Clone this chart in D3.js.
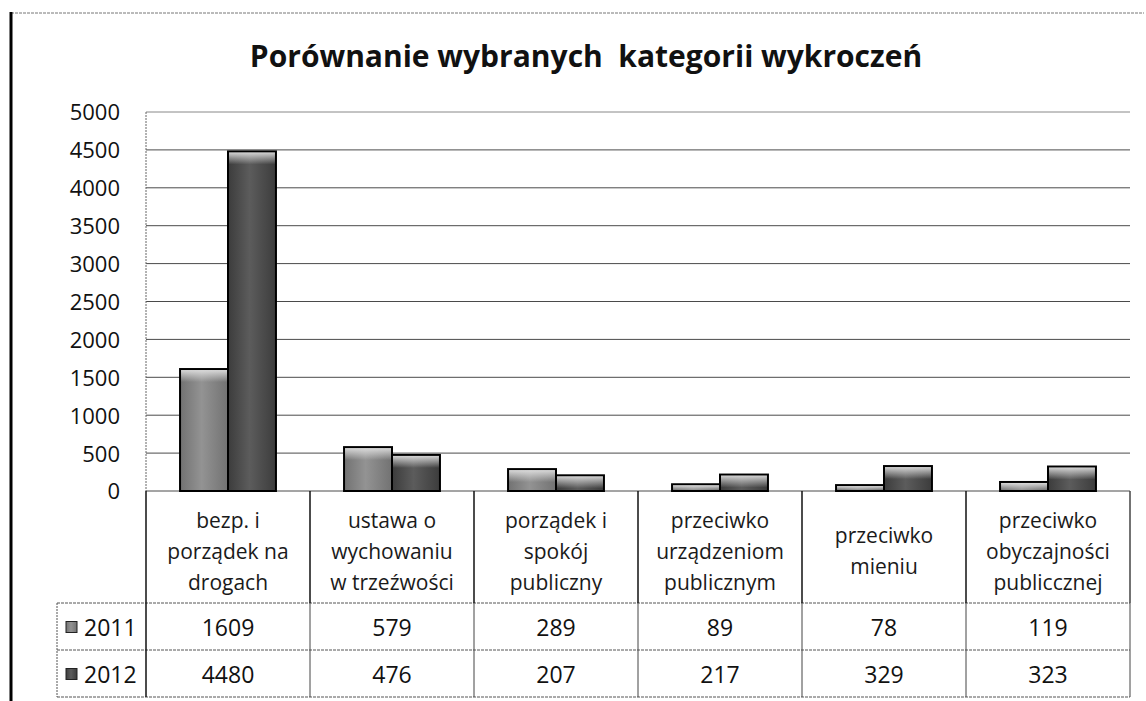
<!DOCTYPE html>
<meta charset="utf-8">
<title>wykroczenia</title>
<head>
<style>
body { margin: 0; background: #fff; }
svg { display: block; }
text { font-family: "Open Sans", "DejaVu Sans", sans-serif; fill: #111; }
.title { font-weight: bold; font-size: 30px; white-space: pre; }
.tick text { font-size: 22px; fill: #111; }
.cat text { font-size: 21px; fill: #1a1a1a; }
.val { font-size: 23px; }
.grid line { stroke: #4a4a4a; stroke-width: 1; }
.bar rect { stroke: #000; stroke-width: 2; }
</style>
</head>
<body>
<div id="chart"></div>
<script src="https://cdn.jsdelivr.net/npm/d3@7"></script>
<script>
var categories = [
  ["bezp. i", "porządek na", "drogach"],
  ["ustawa o", "wychowaniu", "w trzeźwości"],
  ["porządek i", "spokój", "publiczny"],
  ["przeciwko", "urządzeniom", "publicznym"],
  ["przeciwko", "mieniu"],
  ["przeciwko", "obyczajności", "publiccznej"]
];
var years = ["2011", "2012"];
var values2011 = [1609, 579, 289, 89, 78, 119];
var values2012 = [4480, 476, 207, 217, 329, 323];
var yTicks = [0, 500, 1000, 1500, 2000, 2500, 3000, 3500, 4000, 4500, 5000];

var W = 1146, H = 701;
var plot = {left: 146, right: 1130, top: 112, bottom: 491};
var rowCat = 112, rowVal = 47, legendLeft = 57;

var svg = d3.select("#chart").append("svg")
    .attr("width", W)
    .attr("height", H);

var defs = svg.append("defs");
var shades = {"2011": ["#939393", "#727272"], "2012": ["#5c5c5c", "#3c3c3c"]};
years.forEach(function(y) {
  var g = defs.append("linearGradient")
      .attr("id", "g" + y)
      .attr("x1", 0).attr("x2", 1).attr("y1", 0).attr("y2", 0);
  g.append("stop").attr("offset", "0%").attr("stop-color", shades[y][1]);
  g.append("stop").attr("offset", "45%").attr("stop-color", shades[y][0]);
  g.append("stop").attr("offset", "100%").attr("stop-color", shades[y][1]);
});
var hl = defs.append("linearGradient")
    .attr("id", "hl")
    .attr("x1", 0).attr("x2", 0).attr("y1", 0).attr("y2", 1);
hl.append("stop").attr("offset", "0%").attr("stop-color", "#e2e2e2").attr("stop-opacity", 0.9);
hl.append("stop").attr("offset", "100%").attr("stop-color", "#e2e2e2").attr("stop-opacity", 0);

var keys = categories.map(function(c, i) { return "c" + i; });
var x = d3.scaleBand().domain(keys).range([plot.left, plot.right]);
var xs = d3.scaleBand().domain(years).range([0, x.bandwidth()]).paddingOuter(0.71);
var y = d3.scaleLinear().domain([0, 5000]).range([plot.bottom, plot.top]);

// chart frame (scanned border)
svg.append("line")
    .attr("x1", 11).attr("x2", 1144).attr("y1", 13).attr("y2", 13)
    .style("stroke", "#777").style("stroke-dasharray", "3,1");
svg.append("line")
    .attr("x1", 11).attr("x2", 11).attr("y1", 12).attr("y2", H)
    .style("stroke", "#000").style("stroke-width", 3);

svg.append("text")
    .attr("class", "title")
    .attr("x", 586).attr("y", 67)
    .attr("text-anchor", "middle")
    .text("Porównanie wybranych\u00a0 kategorii wykroczeń");

// gridlines
svg.append("g").attr("class", "grid").selectAll("line")
    .data(yTicks)
  .enter().append("line")
    .attr("x1", plot.left).attr("x2", plot.right)
    .attr("y1", function(d) { return y(d); })
    .attr("y2", function(d) { return y(d); })
    .style("stroke", function(d) { return d == 5000 ? "#888" : null; });

svg.append("line")
    .attr("x1", plot.left).attr("x2", plot.left)
    .attr("y1", plot.top).attr("y2", plot.bottom)
    .style("stroke", "#666").style("stroke-dasharray", "2,1");

var yAxis = svg.append("g")
    .attr("transform", "translate(" + (plot.left - 26) + ",0)")
    .call(d3.axisLeft(y).tickValues(yTicks).tickFormat(d3.format("d")).tickSize(0).tickPadding(0));
yAxis.select(".domain").remove();
yAxis.selectAll("text").attr("dy", "0.36em");

// bars
var data = keys.map(function(k, i) {
  return [{key: k, year: "2011", value: values2011[i]},
          {key: k, year: "2012", value: values2012[i]}];
});

var bar = svg.append("g").attr("class", "bar").selectAll("g")
    .data(d3.merge(data))
  .enter().append("g");

bar.append("rect")
    .attr("x", function(d) { return x(d.key) + xs(d.year); })
    .attr("y", function(d) { return y(d.value); })
    .attr("width", xs.bandwidth())
    .attr("height", function(d) { return y(0) - y(d.value); })
    .style("fill", function(d) { return "url(#g" + d.year + ")"; });

bar.append("rect")
    .attr("x", function(d) { return x(d.key) + xs(d.year) + 1; })
    .attr("y", function(d) { return y(d.value) + 1; })
    .attr("width", xs.bandwidth() - 2)
    .attr("height", function(d) { return Math.min(12, y(0) - y(d.value) - 2); })
    .style("stroke", "none")
    .style("fill", "url(#hl)");

// data table
var tTop = plot.bottom, r1 = tTop + rowCat, r2 = r1 + rowVal, r3 = r2 + rowVal;
var table = svg.append("g");

table.selectAll(".hl")
    .data([r1, r2, r3])
  .enter().append("line")
    .attr("x1", legendLeft).attr("x2", plot.right)
    .attr("y1", function(d) { return d; }).attr("y2", function(d) { return d; })
    .style("stroke", "#555").style("stroke-dasharray", "3,1");

var bounds = keys.map(function(k) { return x(k); }).concat([plot.right]);
table.selectAll(".vc")
    .data(bounds)
  .enter().append("line")
    .attr("x1", function(d) { return d; }).attr("x2", function(d) { return d; })
    .attr("y1", tTop).attr("y2", r1)
    .style("stroke", function(d, i) { return i == bounds.length - 1 ? "#444" : "#111"; })
    .style("stroke-width", 1.5);
table.selectAll(".vv")
    .data(bounds)
  .enter().append("line")
    .attr("x1", function(d) { return d; }).attr("x2", function(d) { return d; })
    .attr("y1", r1).attr("y2", r3)
    .style("stroke", function(d, i) { return i == 0 ? "#111" : "#444"; })
    .style("stroke-width", function(d, i) { return i == 0 ? 1.5 : 1; });
table.append("line")
    .attr("x1", legendLeft).attr("x2", legendLeft)
    .attr("y1", r1).attr("y2", r3)
    .style("stroke", "#555").style("stroke-dasharray", "2,1");

var cat = table.append("g").attr("class", "cat").selectAll("text")
    .data(categories)
  .enter().append("text")
    .attr("text-anchor", "middle")
    .attr("x", function(d, i) { return x(keys[i]) + x.bandwidth() / 2; })
    .attr("y", function(d) { return tTop + rowCat / 2 + 4 - (d.length - 1) * 15.5; });
cat.selectAll("tspan")
    .data(function(d) { return d; })
  .enter().append("tspan")
    .attr("x", function() { return d3.select(this.parentNode).attr("x"); })
    .attr("dy", function(d, i) { return i == 0 ? "0.36em" : 31; })
    .text(function(d) { return d; });

[values2011, values2012].forEach(function(vals, r) {
  var cy = r1 + rowVal * r + rowVal / 2 + 1;
  table.append("g").selectAll("text")
      .data(vals)
    .enter().append("text")
      .attr("class", "val")
      .attr("text-anchor", "middle")
      .attr("dy", "0.36em")
      .attr("x", function(d, i) { return x(keys[i]) + x.bandwidth() / 2; })
      .attr("y", cy)
      .text(function(d) { return d; });

  table.append("rect")
      .attr("x", 66).attr("y", cy - 6)
      .attr("width", 11).attr("height", 11)
      .style("fill", "url(#g" + years[r] + ")")
      .style("stroke", "#222");
  table.append("text")
      .attr("class", "val")
      .attr("x", 84).attr("y", cy).attr("dy", "0.36em")
      .text(years[r]);
});
</script>
</body>
</html>
